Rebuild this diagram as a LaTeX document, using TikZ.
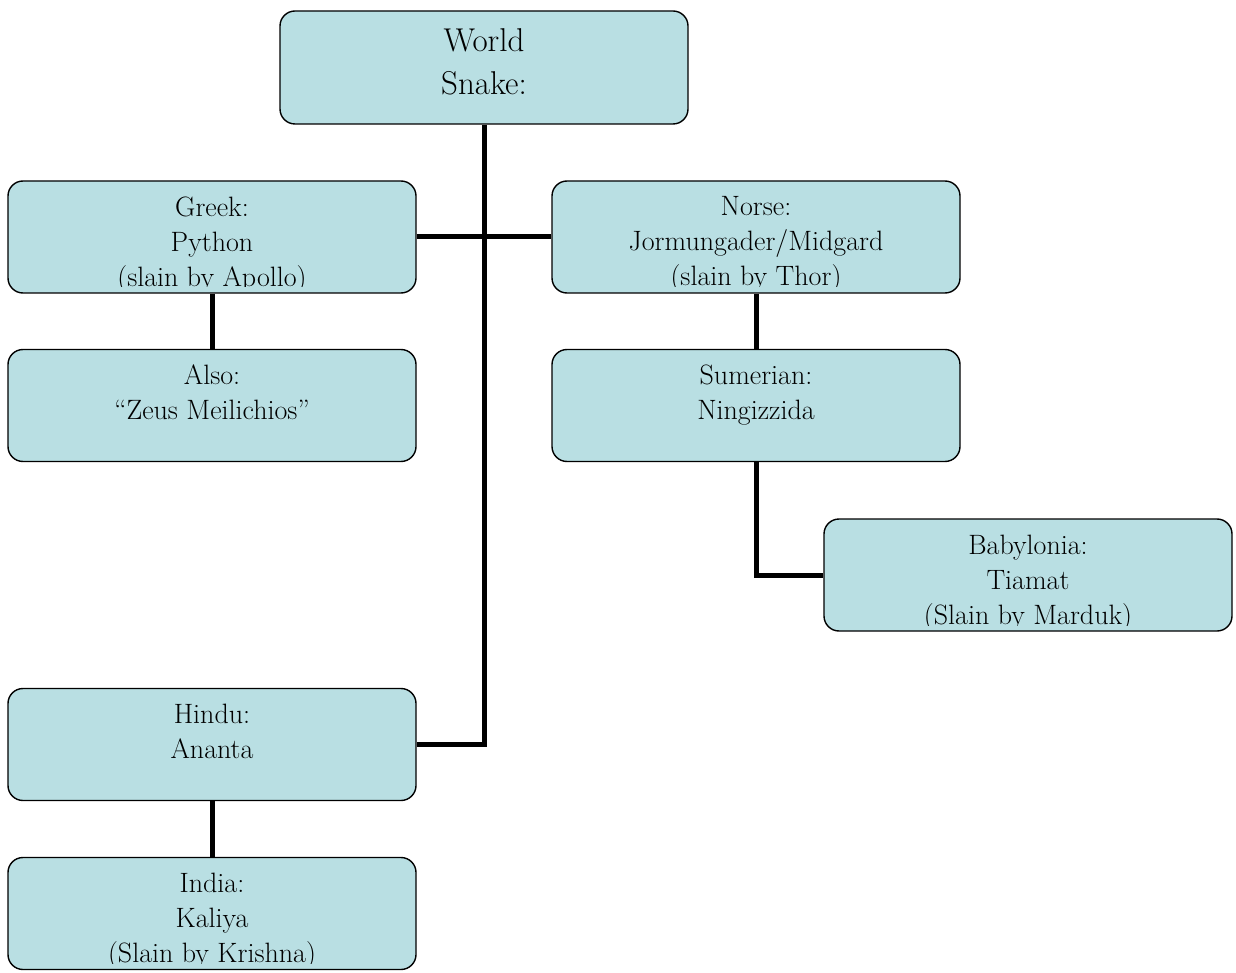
\documentclass[tikz,border=0pt]{standalone}
\usepackage{fontspec}
\usetikzlibrary{backgrounds}
\definecolor{snakecyan}{RGB}{185,223,227}
\tikzset{
  mythbox/.style={draw, line width=1.4pt, rounded corners=15pt, fill=snakecyan,
    minimum width=408pt, minimum height=112pt, inner sep=0pt,
    path picture={\clip ([yshift=6pt]path picture bounding box.south west) rectangle (path picture bounding box.north east);
      \node[draw=none, fill=none, minimum size=0pt, inner sep=0pt, sharp corners,
      anchor=north, align=center, font=\fontsize{28}{35}\selectfont]
      at ([yshift=-15pt]path picture bounding box.north) {#1};}},
  topbox/.style={mythbox, minimum height=113pt,
    path picture={\node[draw=none, fill=none, minimum size=0pt, inner sep=0pt, sharp corners,
      anchor=north, align=center, font=\fontsize{33}{43}\selectfont]
      at ([yshift=-17pt]path picture bounding box.north) {#1};}},
  link/.style={line width=5pt},
}
\begin{document}
\begin{tikzpicture}[x=1pt,y=1pt,yscale=-1,xscale=1]
\useasboundingbox (0,0) rectangle (1236,973);

%Shape: Rounded Rect [id:world]
\node[topbox={World\\Snake:}] (world) at (484,67.5) {};
%Shape: Rounded Rect [id:greek]
\node[mythbox={Greek:\\Python\\(slain by Apollo)}] (greek) at (212,237) {};
%Shape: Rounded Rect [id:norse]
\node[mythbox={Norse:\\Jormungader/Midgard\\(slain by Thor)}] (norse) at (756,237) {};
%Shape: Rounded Rect [id:also]
\node[mythbox={Also:\\``Zeus Meilichios''}] (also) at (212,405.5) {};
%Shape: Rounded Rect [id:sumer]
\node[mythbox={Sumerian:\\Ningizzida}] (sumer) at (756,405.5) {};
%Shape: Rounded Rect [id:babyl]
\node[mythbox={Babylonia:\\Tiamat\\(Slain by Marduk)}] (babyl) at (1028,575) {};
%Shape: Rounded Rect [id:hindu]
\node[mythbox={Hindu:\\Ananta}] (hindu) at (212,744.5) {};
%Shape: Rounded Rect [id:india]
\node[mythbox={India:\\Kaliya\\(Slain by Krishna)}] (india) at (212,913.5) {};

\begin{pgfonlayer}{background}
%Straight Lines
\draw[link] (world.south) -- (world.south |- hindu.east) -- (hindu.east);
%Straight Lines
\draw[link] (greek.east) -- (norse.west);
%Straight Lines
\draw[link] (greek.south) -- (also.north);
%Straight Lines
\draw[link] (norse.south) -- (sumer.north);
%Straight Lines
\draw[link] (sumer.south) |- (babyl.west);
%Straight Lines
\draw[link] (hindu.south) -- (india.north);
\end{pgfonlayer}

\end{tikzpicture}
\end{document}
